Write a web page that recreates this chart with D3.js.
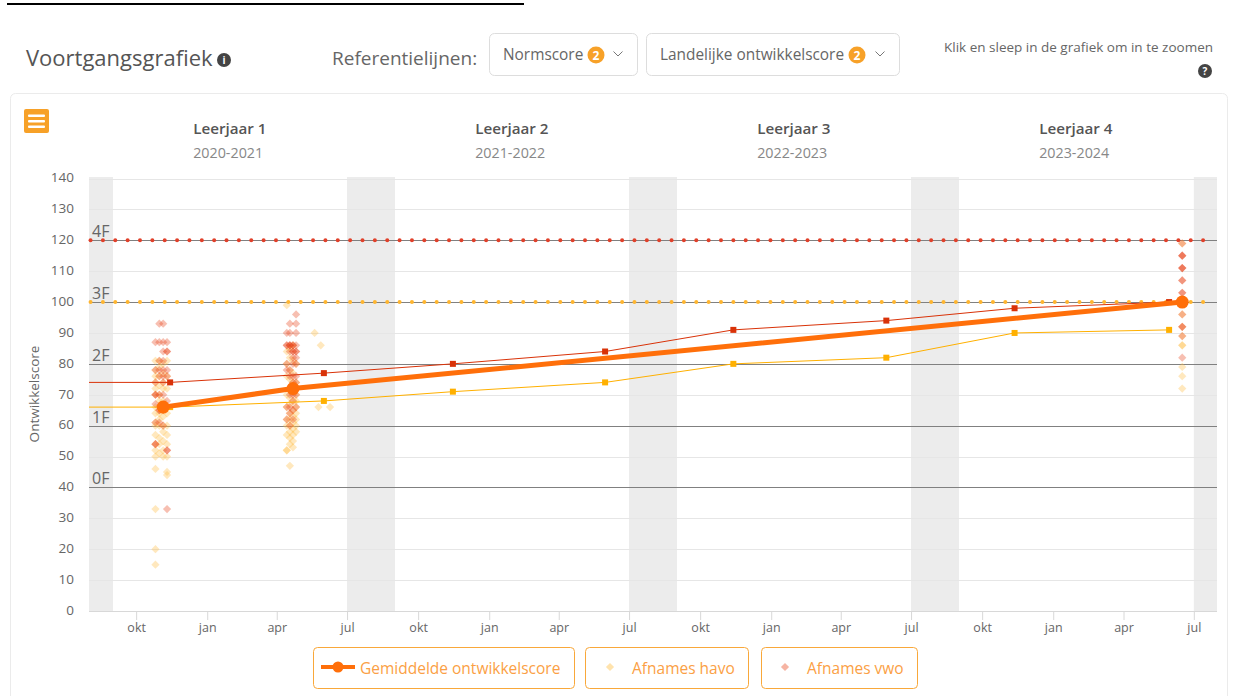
<!DOCTYPE html>
<html><head><meta charset="utf-8">
<script src="https://cdn.jsdelivr.net/npm/d3@7/dist/d3.min.js"></script>
<style>html,body{margin:0;padding:0;background:#fff;overflow:hidden}svg{display:block}text{font-family:"Open Sans",sans-serif}</style>
</head><body><svg id="c" width="1244" height="696"></svg>
<script>
const yearLabels=[["Leerjaar 1","2020-2021"],["Leerjaar 2","2021-2022"],["Leerjaar 3","2022-2023"],["Leerjaar 4","2023-2024"]];
const yearCentres=["2021-02-01","2022-02-01","2023-02-01","2024-02-01"];
const yTicks=[0,10,20,30,40,50,60,70,80,90,100,110,120,130,140];
const normLevels=[["0F",40],["1F",60],["2F",80],["3F",100],["4F",120]];
const monthNames=["jan","apr","jul","okt"];
const vacations=[["2020-08-01","2020-09-01"],["2021-07-01","2021-09-01"],["2022-07-01","2022-09-01"],["2023-07-01","2023-09-01"],["2024-07-01","2024-07-31"]];
const vwoLine=[["2020-08-01",74],["2020-11-14",74],["2021-06-01",77],["2021-11-15",80],["2022-05-31",84],["2022-11-13",91],["2023-05-30",94],["2023-11-12",98],["2024-05-30",100]];
const havoLine=[["2020-08-01",66],["2020-11-14",66],["2021-06-01",68],["2021-11-15",71],["2022-05-31",74],["2022-11-13",80],["2023-05-30",82],["2023-11-12",90],["2024-05-30",91]];
const meanLine=[["2020-11-05",66],["2021-04-22",72],["2024-06-16",100]];
const havoDots=[
["2020-10-26",[81,78,76,74,72,70,66,64,61,60,57,54,52,50,46,33,20,15]],
["2020-10-31",[81,79,76,73,70,68,66,64,62,60,56,54,51]],
["2020-11-05",[80,77,74,72,68,65,63,60,58,55,52,50]],
["2020-11-10",[81,76,72,66,64,60,57,54,50,45,44]],
["2021-04-14",[99,84,80,76,70,66,62,60,57,52,52]],
["2021-04-18",[85,82,78,75,72,69,67,64,62,60,58,56,54,47]],
["2021-04-22",[86,81,77,74,71,68,65,63,61,59,57,55,53]],
["2021-04-26",[80,74,70,68,66,64,62,60,58]],
["2021-05-20",[90]],["2021-05-28",[86]],["2021-05-25",[66]],["2021-06-09",[66]],
["2024-06-16",[119,96,92,89,86,86,79,76,72]]
];
const vwoDots=[
["2020-10-26",[87,78,74,70,70,67,61,54,54]],
["2020-10-31",[93,87,81,78,76,70,65,65,61]],
["2020-11-05",[93,87,84,81,78,76,74,70,65,60]],
["2020-11-10",[87,84,84,78,76,68,52,52,33]],
["2021-04-14",[90,86,86,80,78,66,62]],
["2021-04-18",[93,90,86,86,86,84,78,76,72,70,66,64,60]],
["2021-04-22",[86,86,84,84,82,80,76,74,70,68,65,62]],
["2021-04-26",[96,93,90,86,84,84,82,80,76,74,70,66]],
["2024-06-16",[119,115,115,115,111,111,111,107,107,103,103,96,92,92,89,82]]
];
const legendItems=["Gemiddelde ontwikkelscore","Afnames havo","Afnames vwo"];
const dropdowns=[["Normscore",2],["Landelijke ontwikkelscore",2]];

const parse=d3.utcParse("%Y-%m-%d");
const svg=d3.select("#c");
const x=d3.scaleUtc().domain([parse("2020-08-01"),parse("2024-07-31")]).range([89,1217]);
const y=d3.scaleLinear().domain([0,140]).range([611,178.5]);

// top rule
svg.append("rect").attr("x",7).attr("y",3).attr("width",517).attr("height",2).attr("fill","#000");

// header
svg.append("text").attr("x",26).attr("y",66).attr("font-size",22).attr("fill","#555").text("Voortgangsgrafiek");
function icon(cx,cy,r,t){svg.append("circle").attr("cx",cx).attr("cy",cy).attr("r",r).attr("fill","#444");
 svg.append("text").attr("x",cx).attr("y",cy+3.5).attr("text-anchor","middle").attr("font-size",10).attr("font-weight",700).attr("fill","#fff").text(t);}
icon(224,60,7,"i");
svg.append("text").attr("x",332).attr("y",65).attr("font-size",19).attr("fill","#666").text("Referentielijnen:");
const ddLayout=[[489,148,503,596,618],[646,253,660,857,880]];
dropdowns.forEach((d,i)=>{const l=ddLayout[i];
 svg.append("rect").attr("x",l[0]+.5).attr("y",33.5).attr("width",l[1]).attr("height",42).attr("rx",5).attr("fill","#fff").attr("stroke","#ddd");
 svg.append("text").attr("x",l[2]).attr("y",59.5).attr("font-size",15.4).attr("fill","#666").text(d[0]);
 svg.append("circle").attr("cx",l[3]).attr("cy",55).attr("r",8.5).attr("fill","#f7a128");
 svg.append("text").attr("x",l[3]).attr("y",59.5).attr("text-anchor","middle").attr("font-size",12).attr("font-weight",700).attr("fill","#fff").text(d[1]);
 svg.append("path").attr("d",`M${l[4]-4.5},51.5l4.5,4.5l4.5,-4.5`).attr("fill","none").attr("stroke","#777");
});
svg.append("text").attr("x",1213).attr("y",52).attr("text-anchor","end").attr("font-size",13.5).attr("fill","#666").text("Klik en sleep in de grafiek om in te zoomen");
icon(1205,71,7,"?");

// card
svg.append("rect").attr("x",10.5).attr("y",93.5).attr("width",1217).attr("height",640).attr("rx",5).attr("fill","#fff").attr("stroke","#ebebeb");
svg.append("rect").attr("x",24).attr("y",109).attr("width",25).attr("height",24).attr("rx",2).attr("fill","#f7a128");
[114.5,120,125.5].forEach(v=>svg.append("rect").attr("x",28).attr("y",v).attr("width",17).attr("height",2.5).attr("rx",1).attr("fill","#fff"));

// year headings
yearLabels.forEach((d,i)=>{const sx=x(parse(yearCentres[i]))-38;
 svg.append("text").attr("x",sx).attr("y",134).attr("font-size",15.2).attr("font-weight",600).attr("fill","#555").text(d[0]);
 svg.append("text").attr("x",sx).attr("y",158).attr("font-size",14.3).attr("fill","#888").text(d[1]);
});

// vacation bands
svg.selectAll(".vac").data(vacations).join("rect").attr("x",d=>x(parse(d[0]))).attr("y",177)
 .attr("width",d=>x(parse(d[1]))-x(parse(d[0]))).attr("height",y(0)-177).attr("fill","#ececec");

// grid
svg.selectAll(".g").data(yTicks).join("line").attr("x1",89).attr("x2",1217).attr("y1",d=>Math.round(y(d))+.5).attr("y2",d=>Math.round(y(d))+.5).attr("stroke","#e6e6e6");

// axes
const yAxis=d3.axisLeft(y).tickValues(yTicks).tickSize(0).tickPadding(15);
const ga=svg.append("g").attr("transform","translate(89,-1)").call(yAxis);
ga.select(".domain").remove();
ga.selectAll("text").attr("font-size",13.5).attr("fill","#666").style("font-family",'"Open Sans",sans-serif');
const xAxis=d3.axisBottom(x).ticks(d3.utcMonth.every(3)).tickFormat(d=>monthNames[d.getUTCMonth()/3]).tickSize(9).tickPadding(3);
const gx=svg.append("g").attr("transform","translate(0,611)").call(xAxis);
gx.select(".domain").attr("stroke","#d8d8d8").attr("d","M89,0.5H1217");
gx.selectAll("line").attr("stroke","#d8d8d8");
gx.selectAll("text").attr("font-size",12.5).attr("fill","#666").style("font-family",'"Open Sans",sans-serif');

svg.append("text").attr("transform","translate(39,394) rotate(-90)").attr("text-anchor","middle").attr("font-size",13.5).attr("fill","#666").text("Ontwikkelscore");

// norm lines
normLevels.forEach(d=>{const yy=Math.round(y(d[1]))+.5;
 svg.append("line").attr("x1",89).attr("x2",1217).attr("y1",yy).attr("y2",yy).attr("stroke","#808080").attr("stroke-width",1.2);
 svg.append("text").attr("x",92).attr("y",yy-4).attr("font-size",16).attr("fill","#666").text(d[0]);
});
// reference dots
const refDates=d3.utcDay.range(parse("2020-08-03"),parse("2024-07-25"),16);
[[100,"#ffb52e"],[120,"#e0402a"]].forEach(([v,c])=>{
 svg.append("g").selectAll("circle").data(refDates).join("circle").attr("cx",d=>x(d)).attr("cy",y(v)).attr("r",2).attr("fill",c);
});

// scatter
const flat=a=>a.flatMap(([dt,vals])=>vals.map(v=>[parse(dt),v]));
const diamondPath=d3.symbol().type(d3.symbolSquare).size(34)();
function dots(a,c,o){svg.append("g").selectAll("path").data(flat(a)).join("path")
 .attr("d",diamondPath).attr("transform",d=>`translate(${x(d[0])},${y(d[1])}) rotate(45)`).attr("fill",c).attr("opacity",o);}
dots(havoDots,"#ffc04a",.36);
dots(vwoDots,"#e8431a",.34);

// lines
const line=d3.line().x(d=>x(parse(d[0]))).y(d=>y(d[1]));
function refLine(a,c){svg.append("path").attr("d",line(a)).attr("fill","none").attr("stroke",c).attr("stroke-width",1);
 svg.append("g").selectAll("rect").data(a.slice(1)).join("rect").attr("x",d=>x(parse(d[0]))-3).attr("y",d=>y(d[1])-3).attr("width",6).attr("height",6).attr("fill",c);}
refLine(havoLine,"#ffb000");
refLine(vwoLine,"#d93208");
svg.append("path").attr("d",line(meanLine)).attr("fill","none").attr("stroke","#ff6f0a").attr("stroke-width",5);
svg.append("g").selectAll("circle").data(meanLine).join("circle").attr("cx",d=>x(parse(d[0]))).attr("cy",d=>y(d[1])).attr("r",6.5).attr("fill","#ff6f0a");

// legend
const legLayout=[[313,261,360],[585,163,632],[761,156,807]];
legendItems.forEach((t,i)=>{const l=legLayout[i];
 svg.append("rect").attr("x",l[0]+.5).attr("y",647.5).attr("width",l[1]).attr("height",41).attr("rx",4).attr("fill","#fff").attr("stroke","#f9a83a");
 svg.append("text").attr("x",l[2]).attr("y",673.5).attr("font-size",15.5).attr("fill","#fb9f45").text(t);
});
svg.append("line").attr("x1",321).attr("x2",355).attr("y1",667).attr("y2",667).attr("stroke","#ff6f0a").attr("stroke-width",4);
svg.append("circle").attr("cx",338).attr("cy",667).attr("r",5.5).attr("fill","#ff6f0a");
svg.append("path").attr("d",diamondPath).attr("transform","translate(610,667) rotate(45)").attr("fill","#ffc04a").attr("opacity",.45);
svg.append("path").attr("d",diamondPath).attr("transform","translate(785,667) rotate(45)").attr("fill","#e8431a").attr("opacity",.4);
</script></body></html>
